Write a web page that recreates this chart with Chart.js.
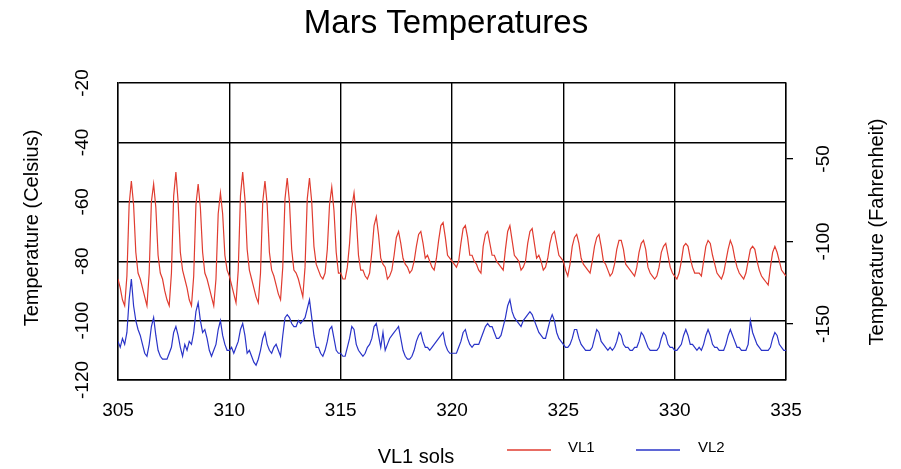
<!DOCTYPE html>
<html>
<head>
<meta charset="utf-8">
<title>Mars Temperatures</title>
<script src="https://cdn.jsdelivr.net/npm/chart.js@4.4.1/dist/chart.umd.min.js"></script>
<style>
  html, body { margin: 0; padding: 0; background: #fff; }
  #wrap { width: 901px; height: 469px; }
</style>
</head>
<body>
<div id="wrap"><canvas id="marsChart" width="901" height="469"></canvas></div>
<script>
// sols on the x axis, 10 readings per sol (every 0.1 sol)
const firstSol = 305;
const samplesPerSol = 10;
const xTicks = [305, 310, 315, 320, 325, 330, 335];
const celsiusTicks = [-20, -40, -60, -80, -100, -120];
const fahrenheitTicks = [-50, -100, -150];

// VL1 (Chryse) temperatures, deg C, one row per sol
const vl1BySol = [
  [-86, -89, -93, -95, -85, -61, -53, -61, -77, -84], // 305
  [-86, -89, -92, -95, -84, -60, -54, -62, -78, -84],
  [-86, -90, -93, -95, -84, -58, -50, -60, -77, -83],
  [-86, -89, -93, -95, -85, -61, -54, -62, -77, -84],
  [-86, -89, -92, -95, -86, -64, -57, -64, -78, -83],
  [-85, -88, -91, -94, -83, -58, -50, -59, -76, -83], // 310
  [-86, -89, -92, -94, -84, -60, -53, -61, -77, -83],
  [-85, -88, -91, -93, -82, -59, -52, -60, -76, -83],
  [-84, -86, -89, -92, -82, -59, -52, -60, -75, -81],
  [-83, -85, -86, -84, -76, -61, -55, -63, -77, -84],
  [-84, -86, -86, -82, -74, -62, -57, -65, -78, -83], // 315
  [-83, -85, -86, -84, -77, -68, -65, -71, -79, -81],
  [-82, -86, -85, -83, -78, -72, -70, -74, -79, -81],
  [-82, -84, -83, -80, -75, -71, -70, -74, -79, -78],
  [-80, -82, -83, -79, -73, -68, -67, -72, -78, -79],
  [-80, -81, -82, -80, -74, -69, -68, -72, -78, -78], // 320
  [-80, -81, -83, -84, -75, -71, -70, -74, -78, -78],
  [-80, -81, -82, -83, -76, -70, -68, -73, -78, -79],
  [-80, -83, -82, -80, -74, -70, -69, -74, -79, -78],
  [-80, -83, -82, -79, -74, -71, -70, -74, -78, -79],
  [-80, -83, -85, -81, -75, -72, -71, -74, -79, -81], // 325
  [-82, -83, -84, -80, -75, -72, -71, -75, -80, -81],
  [-83, -85, -84, -81, -76, -73, -73, -76, -81, -82],
  [-83, -84, -85, -82, -77, -74, -73, -76, -82, -84],
  [-85, -86, -85, -82, -77, -75, -74, -78, -82, -84],
  [-85, -86, -84, -80, -75, -74, -75, -79, -82, -84], // 330
  [-84, -84, -85, -80, -75, -73, -74, -78, -81, -84],
  [-85, -86, -84, -80, -76, -73, -75, -79, -82, -84],
  [-85, -86, -84, -80, -76, -75, -76, -80, -83, -85],
  [-86, -87, -88, -82, -77, -75, -77, -80, -83, -84],
  [-85] // 335
];

// VL2 (Utopia) temperatures, deg C, one row per sol
const vl2BySol = [
  [-107, -109, -106, -108, -104, -93, -86, -95, -100, -103], // 305
  [-105, -108, -111, -112, -108, -102, -99, -105, -110, -112],
  [-113, -113, -113, -111, -109, -104, -102, -105, -109, -112],
  [-108, -110, -107, -108, -104, -97, -94, -100, -104, -103],
  [-106, -110, -112, -110, -108, -103, -100, -105, -108, -110],
  [-110, -109, -111, -109, -107, -103, -101, -105, -111, -110], // 310
  [-112, -114, -115, -113, -110, -106, -104, -108, -110, -111],
  [-109, -108, -110, -112, -105, -99, -98, -99, -101, -102],
  [-102, -100, -101, -100, -99, -96, -93, -99, -105, -109],
  [-109, -111, -112, -110, -107, -103, -102, -106, -110, -111],
  [-111, -112, -112, -109, -106, -102, -103, -108, -110, -111], // 315
  [-112, -111, -109, -108, -106, -102, -101, -105, -109, -104],
  [-110, -108, -106, -105, -104, -103, -102, -106, -110, -112],
  [-113, -113, -112, -110, -107, -105, -104, -107, -109, -109],
  [-110, -109, -108, -107, -106, -105, -104, -108, -110, -111],
  [-111, -111, -111, -109, -107, -104, -103, -106, -108, -109], // 320
  [-108, -108, -108, -106, -104, -102, -101, -102, -102, -104],
  [-106, -106, -105, -102, -99, -95, -93, -97, -99, -100],
  [-101, -102, -100, -99, -98, -97, -98, -100, -102, -104],
  [-105, -106, -106, -103, -100, -98, -100, -104, -106, -107],
  [-108, -109, -109, -108, -106, -103, -103, -106, -108, -109], // 325
  [-110, -110, -110, -109, -106, -103, -104, -107, -108, -109],
  [-110, -109, -110, -109, -107, -104, -105, -108, -109, -109],
  [-110, -110, -109, -109, -107, -104, -105, -107, -109, -110],
  [-110, -110, -110, -109, -106, -104, -105, -108, -109, -109],
  [-110, -110, -109, -108, -105, -103, -105, -108, -108, -109], // 330
  [-110, -109, -110, -108, -105, -103, -105, -108, -109, -109],
  [-110, -110, -110, -108, -105, -103, -105, -107, -109, -109],
  [-110, -110, -110, -108, -100, -104, -106, -108, -109, -110],
  [-110, -110, -110, -109, -106, -104, -105, -108, -109, -110],
  [-110] // 335
];

(function () {
  const font = "'Liberation Sans', Arial, Helvetica, sans-serif";

  function toPoints(rows) {
    const pts = [];
    rows.forEach((row, i) => {
      row.forEach((v, k) => {
        pts.push({ x: firstSol + i + k / samplesPerSol, y: v });
      });
    });
    return pts;
  }

  function cToF(c) {
    return c * 9 / 5 + 32;
  }

  function vText(ctx, text, x, y) {
    ctx.save();
    ctx.translate(x, y);
    ctx.rotate(-Math.PI / 2);
    ctx.fillText(text, 0, 0);
    ctx.restore();
  }

  const textPlugin = {
    id: "marsText",
    afterDraw(chart) {
      const ctx = chart.ctx;
      const xs = chart.scales.x;
      const ys = chart.scales.y;
      const yf = chart.scales.yF;

      ctx.save();
      ctx.fillStyle = "#000";
      ctx.textAlign = "center";
      ctx.textBaseline = "middle";

      ctx.font = "33px " + font;
      ctx.fillText("Mars Temperatures", 446, 24);

      ctx.font = "19px " + font;
      xTicks.forEach((v) => {
        ctx.fillText(String(v), xs.getPixelForValue(v), 411);
      });
      celsiusTicks.forEach((v) => {
        vText(ctx, String(v), 83, ys.getPixelForValue(v));
      });
      fahrenheitTicks.forEach((v) => {
        vText(ctx, String(v), 824, yf.getPixelForValue(v));
      });

      ctx.font = "20px " + font;
      vText(ctx, "Temperature (Celsius)", 32, 228);
      vText(ctx, "Temperature (Fahrenheit)", 877, 232);
      ctx.fillText("VL1 sols", 416, 457);

      // legend
      ctx.lineWidth = 1.3;
      ctx.strokeStyle = "#e03c30";
      ctx.beginPath();
      ctx.moveTo(507, 450);
      ctx.lineTo(551, 450);
      ctx.stroke();
      ctx.strokeStyle = "#2a34c8";
      ctx.beginPath();
      ctx.moveTo(636, 450);
      ctx.lineTo(680, 450);
      ctx.stroke();
      ctx.font = "15px " + font;
      ctx.textAlign = "left";
      ctx.fillText("VL1", 568, 448);
      ctx.fillText("VL2", 698, 448);
      ctx.restore();
    },
  };

  new Chart(document.getElementById("marsChart").getContext("2d"), {
    type: "line",
    data: {
      datasets: [
        {
          label: "VL1",
          data: toPoints(vl1BySol),
          borderColor: "#e03c30",
          borderWidth: 1.2,
          pointRadius: 0,
          tension: 0,
          yAxisID: "y",
        },
        {
          label: "VL2",
          data: toPoints(vl2BySol),
          borderColor: "#2a34c8",
          borderWidth: 1.2,
          pointRadius: 0,
          tension: 0,
          yAxisID: "y",
        },
      ],
    },
    options: {
      responsive: false,
      animation: false,
      events: [],
      layout: { padding: { top: 83, left: 0, right: 0, bottom: 0 } },
      plugins: {
        legend: { display: false },
        title: { display: false },
        tooltip: { enabled: false },
      },
      scales: {
        x: {
          type: "linear",
          min: 305,
          max: 335,
          afterBuildTicks(scale) {
            scale.ticks = xTicks.map((v) => ({ value: v }));
          },
          afterFit(scale) {
            scale.height = 89;
          },
          ticks: { display: false },
          grid: { color: "#000", lineWidth: 1.4, drawTicks: false },
          border: { color: "#000", width: 1.4 },
        },
        y: {
          position: "left",
          min: -120,
          max: -20,
          afterBuildTicks(scale) {
            scale.ticks = celsiusTicks.map((v) => ({ value: v }));
          },
          afterFit(scale) {
            scale.width = 118;
          },
          ticks: { display: false },
          grid: { color: "#000", lineWidth: 1.4, drawTicks: false },
          border: { color: "#000", width: 1.4 },
        },
        yF: {
          position: "right",
          min: cToF(-120),
          max: cToF(-20),
          afterBuildTicks(scale) {
            scale.ticks = fahrenheitTicks.map((v) => ({ value: v }));
          },
          afterFit(scale) {
            scale.width = 115;
          },
          ticks: { display: false },
          grid: { color: "#000", lineWidth: 1.3, drawOnChartArea: false, drawTicks: true, tickLength: 7 },
          border: { color: "#000", width: 1.4 },
        },
      },
    },
    plugins: [textPlugin],
  });
})();
</script>
</body>
</html>
